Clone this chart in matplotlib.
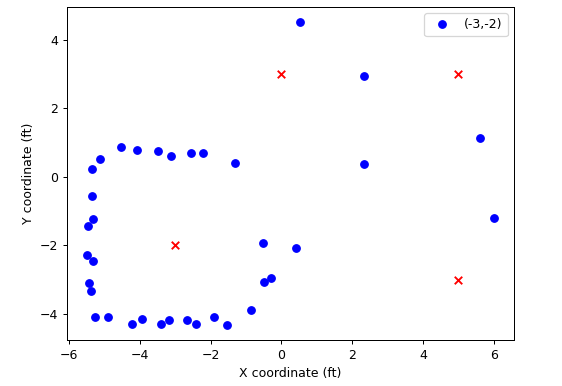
import matplotlib
matplotlib.use("Agg")
import matplotlib.pyplot as plt

# Measured points (blue)
px = [-5.35, -5.12, -4.53, -4.08, -3.47, -3.11, -2.55, -2.22, -1.32,
      0.53, 2.34, 5.62, 2.34,
      -5.35, -5.32, -5.45, -5.48, -5.32, -5.43, -5.38, -5.25, -4.90,
      -4.23, -3.93, -3.39, -3.18, -2.65, -2.42, -1.91, -1.53, -0.87,
      -0.51, -0.49, -0.28,
      0.42, 6.00]
py = [0.23, 0.52, 0.86, 0.78, 0.75, 0.62, 0.68, 0.68, 0.39,
      4.51, 2.95, 1.13, 0.37,
      -0.55, -1.24, -1.45, -2.27, -2.45, -3.10, -3.34, -4.10, -4.10,
      -4.29, -4.15, -4.29, -4.18, -4.18, -4.29, -4.10, -4.32, -3.89,
      -1.94, -3.08, -2.95,
      -2.08, -1.19]

# Anchor points (red x)
ax_x = [0, 5, -3, 5]
ax_y = [3, 3, -2, -3]

series_label = "(-3,-2)"

DPI = 90
fig = plt.figure(figsize=(562/DPI, 386/DPI), dpi=DPI)
ax = fig.add_axes([67/562, 46/386, 447/562, 333/386])
ax.plot(px, py, "o", color="blue", label=series_label)
ax.scatter(ax_x, ax_y, c="red", marker="x")
ax.set_xlabel("X coordinate (ft)")
ax.set_ylabel("Y coordinate (ft)")
ax.legend(loc="upper right")
fig.savefig("out.png", dpi=DPI)
